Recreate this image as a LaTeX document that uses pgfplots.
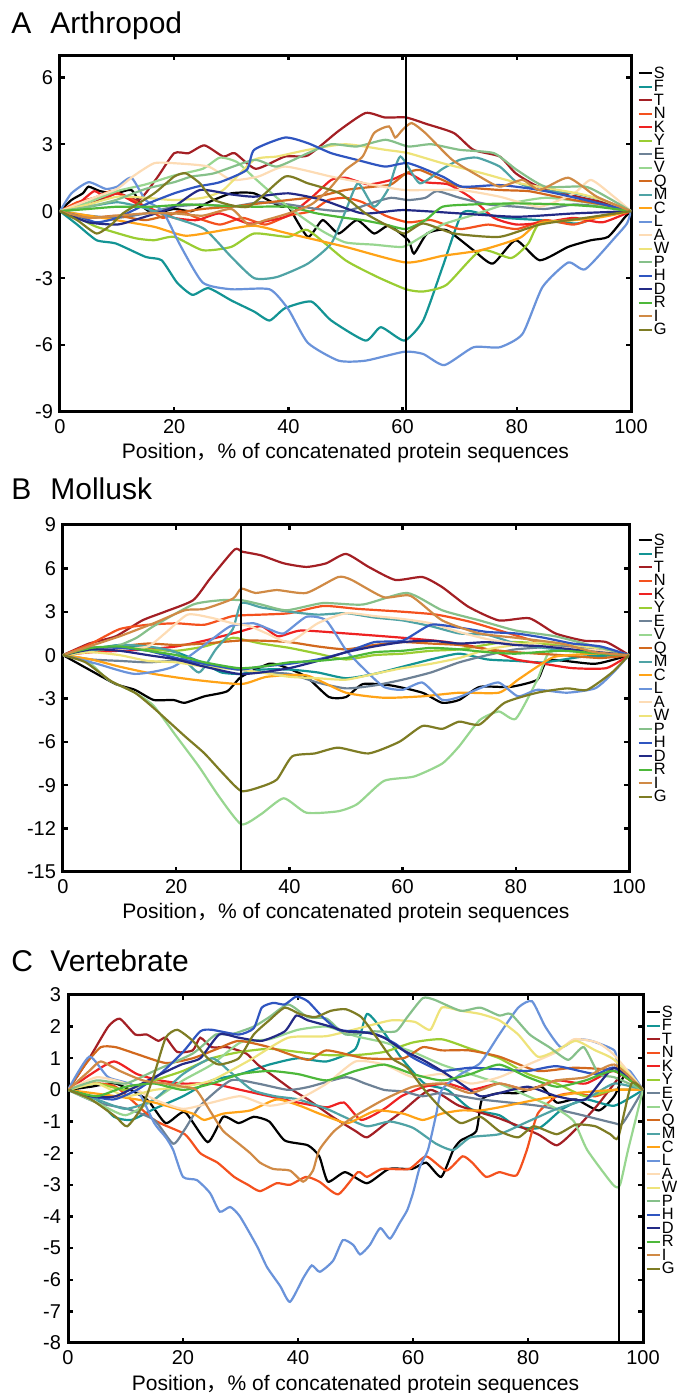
\documentclass[border=0pt]{standalone}
\usepackage{fontspec}
\setmainfont{Liberation Sans}
\newfontfamily\cjk{Noto Sans CJK SC}
\usepackage{pgfplots}
\pgfplotsset{compat=1.18}

\definecolor{cS}{HTML}{000000}
\definecolor{cF}{HTML}{139494}
\definecolor{cT}{HTML}{A31F24}
\definecolor{cN}{HTML}{F4511E}
\definecolor{cK}{HTML}{EE2222}
\definecolor{cY}{HTML}{9ACD32}
\definecolor{cE}{HTML}{6E8296}
\definecolor{cV}{HTML}{98D690}
\definecolor{cQ}{HTML}{D2691E}
\definecolor{cM}{HTML}{4FA3A5}
\definecolor{cC}{HTML}{FFA317}
\definecolor{cL}{HTML}{6A93DA}
\definecolor{cA}{HTML}{FDDCB5}
\definecolor{cW}{HTML}{EEE37A}
\definecolor{cP}{HTML}{86C08A}
\definecolor{cH}{HTML}{2F55C0}
\definecolor{cD}{HTML}{232A86}
\definecolor{cR}{HTML}{4DB83A}
\definecolor{cI}{HTML}{D08A45}
\definecolor{cG}{HTML}{7E7C24}

\pgfplotsset{
  panel/.style={
    scale only axis, xmin=0, xmax=100,
    xtick={0,20,...,100}, xticklabels={0,20,40,60,80,100},
    tick align=inside, major tick length=2.5pt,
    tick style={black, line width=1.2pt},
    axis line style={line width=1.5pt},
    tick label style={font=\fontsize{10}{10}\selectfont},
    every axis x label/.style={at={(axis description cs:0.5,0)}, anchor=base, yshift=-23.5pt, font=\fontsize{10.5}{12}\selectfont},
    xlabel={Position{\cjk ，}\% of concatenated protein sequences},
    legend entries={S,F,T,N,K,Y,E,V,Q,M,C,L,A,W,P,H,D,R,I,G},
    legend style={draw=none, fill=none, font=\fontsize{8.2}{8.2}\selectfont, at={(1,1)}, anchor=north west,
      inner sep=0pt, row sep=0pt, column sep=0.6pt,
      nodes={inner sep=0pt, text height=6pt, text depth=0.75pt}, cells={anchor=west}},
    legend image code/.code={\draw[#1] (0pt,0pt) -- (6.5pt,0pt);},
    every axis plot/.append style={line width=1.1pt, smooth, tension=0.35},
  },
  vline/.style={black, line width=0.9pt, forget plot, sharp plot},
}

\begin{document}
\begin{tikzpicture}
\useasboundingbox (0,0) rectangle (338pt,696.5pt);

% titles
\node[anchor=base west, inner sep=0pt, font=\fontsize{15}{15}\selectfont] at (5.5pt,679.5pt) {A};
\node[anchor=base west, inner sep=0pt, font=\fontsize{15}{15}\selectfont] at (25pt,679.5pt) {Arthropod};
\node[anchor=base west, inner sep=0pt, font=\fontsize{15}{15}\selectfont] at (5.5pt,446.5pt) {B};
\node[anchor=base west, inner sep=0pt, font=\fontsize{15}{15}\selectfont] at (25pt,446.5pt) {Mollusk};
\node[anchor=base west, inner sep=0pt, font=\fontsize{15}{15}\selectfont] at (5.5pt,210.5pt) {C};
\node[anchor=base west, inner sep=0pt, font=\fontsize{15}{15}\selectfont] at (25pt,210.5pt) {Vertebrate};

% ---------------- A Arthropod ----------------
\begin{axis}[panel, at={(30pt,490.5pt)}, anchor=south west, width=285.5pt, height=178.5pt,
  ymin=-9, ymax=7, ytick={-9,-6,...,6}, yticklabels={-9,-6,-3,0,3,6},
  legend style={xshift=3pt, yshift=-5.5pt}]
\addplot[cS] coordinates {(0,0)(2,0.5)(4,0.8)(5,1.1)(7,0.9)(9.8,0.8)(12.5,0.95)(14.5,0.2)(16.5,-0.1)(20,0.1)(23,0.0)(26,0.4)(30,0.8)(34,0.8)(38.7,0.2)(40,0.2)(43.4,-1.15)(46,-0.4)(48.8,-1.0)(52,-0.4)(55,-1.0)(57.6,-0.65)(61,-1.3)(62,-1.9)(64.3,-1.0)(67.7,-0.85)(72.4,-1.75)(75.8,-2.35)(79.8,-1.3)(84,-2.2)(89,-1.6)(93,-1.3)(96,-1.15)(99,-0.25)(100,0)};
\addplot[cF] coordinates {(0,0)(3,-0.6)(6.4,-1.3)(9.8,-1.45)(15,-2.05)(17.8,-2.2)(20.5,-3.2)(23.2,-3.75)(26,-3.45)(30,-4.0)(34,-4.5)(36.7,-4.9)(39.4,-4.35)(44,-4.05)(47.5,-4.9)(53.5,-5.8)(56.2,-5.2)(60.3,-5.8)(63.6,-4.9)(67,-2.5)(70.4,-0.1)(73.7,-0.1)(78,-0.3)(84,-0.4)(90.6,-0.55)(95,-0.2)(100,0)};
\addplot[cT] coordinates {(0,0)(5,0.3)(10,0.8)(13.8,0.5)(17,1.5)(20,2.6)(22.5,2.6)(25.3,2.95)(28.6,2.45)(30.6,2.6)(34.3,1.9)(39.4,2.45)(43.4,2.5)(48.8,3.6)(53.5,4.4)(56.9,4.2)(60.6,4.2)(64.3,3.9)(69,3.5)(72.4,2.75)(77,2.45)(79.8,1.7)(83.8,1.1)(90.6,0.65)(95,0.4)(100,0)};
\addplot[cN] coordinates {(0,0)(3,0.4)(6,0.6)(9,0.9)(12,0.6)(15,0.2)(18,-0.3)(21,0.0)(24,-0.3)(28,-0.6)(32,-0.3)(36,-0.6)(40,-0.2)(44,0.0)(47,0.5)(50,0.6)(53,0.4)(57,-0.2)(61,-0.5)(65,-0.4)(70,-0.8)(75,-0.6)(80,-0.8)(85,-0.4)(90,-0.6)(95,-0.2)(100,0)};
\addplot[cK] coordinates {(0,0)(3,0.3)(6,0.9)(8,0.6)(10,0.8)(13,0.4)(16,0.1)(20,-0.3)(24,-0.4)(28,-0.1)(33,-0.55)(37,-0.4)(40,-0.2)(44,0.6)(47.5,1.4)(50,1.5)(54,1.2)(58,1.4)(61,1.7)(64,1.3)(68,1.2)(72,0.6)(76,-0.3)(80,-0.6)(85,-0.5)(90,-0.3)(95,-0.5)(100,0)};
\addplot[cY] coordinates {(0,0)(4,-0.4)(6.4,-0.7)(13,-1.2)(16.5,-1.3)(20,-1.15)(25,-1.75)(30,-1.6)(34,-1.0)(40,-1.15)(43.4,-0.85)(50,-2.2)(55.6,-2.95)(60.6,-3.5)(63.6,-3.6)(67.7,-3.3)(73.7,-1.75)(79,-2.1)(82,-1.45)(84,-0.55)(90,-0.4)(94,-0.25)(100,0)};
\addplot[cE] coordinates {(0,0)(5,-0.2)(10,-0.3)(15,-0.1)(20,0.2)(25,0.3)(30,0.2)(35,0.4)(40,0.3)(45,0.1)(50,0.0)(55,0.4)(58,0.6)(61,0.5)(64,0.6)(66,0.9)(70,0.6)(75,0.3)(80,0.2)(85,0.1)(90,0.3)(95,0.2)(100,0)};
\addplot[cV] coordinates {(0,0)(5,0.4)(10,0.9)(15,1.2)(20,1.6)(25,1.9)(28,2.4)(31,2.2)(34,1.5)(38,0.6)(42,-0.2)(46,-0.9)(50,-1.4)(55,-1.5)(60,-1.6)(63,-1.2)(67,-0.6)(72,-0.2)(78,0.3)(85,0.6)(92,0.4)(100,0)};
\addplot[cQ] coordinates {(0,0)(5,-0.3)(10,-0.2)(15,-0.4)(20,-0.1)(25,0.1)(30,0.2)(35,0.35)(40,0.5)(45,0.65)(50,0.95)(55,1.1)(58,1.2)(60.6,1.7)(63,1.85)(67,1.4)(70,1.1)(77,0.95)(82,0.9)(86,0.7)(90,0.5)(95,0.3)(100,0)};
\addplot[cM] coordinates {(0,0)(5,0.2)(10,0.4)(14,0.2)(16.5,0.0)(20,-0.3)(25.3,-0.8)(30,-2.05)(34,-3.0)(38,-2.95)(43.4,-2.35)(47.5,-1.45)(50,0.0)(52.2,1.25)(55,0.2)(57.5,1.0)(59.6,2.45)(63,1.25)(67,1.9)(70,2.3)(73,2.4)(77,2.0)(80,1.3)(84,0.95)(90,0.8)(95,0.5)(100,0)};
\addplot[cC] coordinates {(0,0)(5,-0.2)(9.8,-0.4)(16.5,-0.7)(22,-1.1)(28.6,-0.85)(34,-0.65)(40,-1.0)(50,-1.6)(60.6,-2.3)(67,-2.0)(73.7,-1.75)(80.5,-1.2)(84,-0.55)(94,-0.3)(100,0)};
\addplot[cL] coordinates {(0,0)(2,0.8)(5,1.3)(8,1.0)(10,1.1)(12.5,1.5)(15,0.5)(18,0.0)(21,-1.5)(25,-3.2)(30,-3.5)(36.7,-3.5)(40,-4.4)(43.4,-5.9)(48.8,-6.7)(53.5,-6.7)(60.3,-6.3)(63.6,-6.4)(67.3,-6.9)(72.4,-6.1)(77,-6.1)(81,-5.5)(84.5,-3.4)(89,-2.3)(92,-2.6)(97.3,-1.15)(99.3,-0.55)(100,0)};
\addplot[cA] coordinates {(0,0)(6.4,0.65)(10,1.0)(13,1.6)(16.5,2.15)(20,2.15)(26,2.0)(30,1.4)(34.7,1.55)(39.4,2.0)(47.5,1.55)(53.5,1.25)(60.3,0.95)(70,0.95)(77,0.65)(84,0.2)(90,0.8)(93,1.4)(97,0.65)(100,0)};
\addplot[cW] coordinates {(0,0)(5,0.3)(10,0.65)(15,0.6)(20,0.5)(25,0.6)(28.6,0.95)(34,2.3)(38,2.45)(43.4,2.75)(50,3.0)(57,2.75)(61,2.6)(67,2.15)(74,1.7)(80.5,1.25)(90.6,0.8)(95,0.5)(100,0)};
\addplot[cP] coordinates {(0,0)(5,0.2)(9.8,0.5)(15,1.0)(20,1.3)(23,1.55)(27,1.7)(34,2.3)(38,2.0)(43.4,2.6)(47.5,3.0)(52,2.9)(57,3.2)(61,2.9)(65,3.0)(70,2.75)(76,2.6)(80,1.85)(85,1.1)(92,1.1)(96,0.6)(100,0)};
\addplot[cH] coordinates {(0,0)(3,-0.2)(6.4,-0.5)(10,-0.3)(15,0.3)(20,0.8)(24,1.1)(28,1.3)(32.7,1.85)(34,2.75)(39.4,3.3)(43.4,3.05)(47.5,2.6)(52,2.3)(56.9,2.0)(61,2.15)(67,1.55)(70.4,1.1)(77,1.17)(84,0.95)(92,0.5)(100,0)};
\addplot[cD] coordinates {(0,0)(5,-0.5)(10,-0.6)(13,-0.4)(18,0.0)(20,0.2)(24.5,0.95)(30,0.75)(34,0.65)(40,0.8)(46,0.5)(53,-0.1)(60,0.05)(70,-0.1)(80,-0.25)(90,-0.1)(100,0)};
\addplot[cR] coordinates {(0,0)(5,0.1)(10,0.2)(16,0.2)(22,0.3)(28,0.25)(34,0.2)(40,0.2)(45,-0.1)(50,-0.3)(53,-0.4)(57,-0.6)(60.6,-0.8)(64,-0.4)(67,0.2)(72,0.3)(80,0.35)(88,0.3)(94,0.2)(100,0)};
\addplot[cI] coordinates {(0,0)(5,-0.3)(10,-0.2)(15,-0.1)(20,-0.1)(25,-0.2)(30,0.1)(33,-0.6)(36,-0.4)(40,-0.1)(44,0.3)(47,0.95)(50,1.85)(53,2.45)(55,3.5)(57.6,3.8)(58.7,3.3)(60,3.65)(61.6,3.95)(64,3.5)(68.7,2.3)(73.5,1.55)(77,1.1)(81,1.4)(84,0.95)(89,1.5)(94,0.65)(100,0)};
\addplot[cG] coordinates {(0,0)(3,-0.4)(6.4,-1.0)(9,-0.6)(11,-0.1)(16.5,0.8)(20,1.55)(22,1.7)(24.5,1.25)(27,0.5)(33,0.2)(39.4,1.55)(43.4,1.25)(49,0.8)(53.5,-0.1)(57,-0.6)(60.3,-1.0)(63.6,-0.55)(69,-1.0)(77,-1.15)(84,-0.6)(92,-0.3)(100,0)};
\addplot[vline] coordinates {(60.6,-9)(60.6,7)};
\end{axis}

% ---------------- B Mollusk ----------------
\begin{axis}[panel, at={(31.5pt,260.5pt)}, anchor=south west, width=283pt, height=173.5pt,
  ymin=-15, ymax=9, ytick={-15,-12,...,9}, yticklabels={-15,-12,-9,-6,-3,0,3,6,9},
  legend style={xshift=4pt, yshift=-4pt}]
\addplot[cS] coordinates {(0,0)(4.6,-1.0)(9.3,-2.0)(12.7,-2.4)(16,-3.1)(19.5,-3.1)(21.5,-3.3)(25,-2.85)(29,-2.5)(31.5,-1.5)(36.4,-0.6)(39,-0.8)(43,-1.5)(47,-2.9)(50,-2.9)(53,-2.0)(58,-2.1)(63.5,-2.6)(67,-3.3)(70,-3.1)(73.6,-2.2)(79,-2.2)(83.8,-1.7)(85.8,-0.35)(94,-0.6)(100,0)};
\addplot[cF] coordinates {(0,0)(5,0.4)(10,0.7)(15,0.5)(20,0.2)(25,-0.6)(28,-1.2)(31.5,-1.3)(35,-1.0)(40,-1.0)(45,-1.2)(50,-1.6)(55,-1.3)(60,-0.8)(65,-0.3)(70,0.1)(75,-0.3)(80,-0.4)(85,-0.5)(92,-0.1)(100,0)};
\addplot[cT] coordinates {(0,0)(4.6,0.8)(9.3,1.3)(14,2.4)(18,3.0)(23,3.8)(26,5.3)(30.3,7.3)(31.7,7.15)(35,6.9)(39,6.35)(43,6.1)(46.5,6.35)(50,7.0)(54,6.1)(58.7,5.2)(63.5,5.4)(67,4.7)(71.6,3.35)(77,2.4)(82.4,2.55)(87,1.5)(92,1.0)(96,0.9)(100,0)};
\addplot[cN] coordinates {(0,0)(5,0.8)(10,1.8)(15,2.1)(20,2.2)(25,2.1)(30,2.7)(35,2.8)(40,2.9)(46,3.4)(52,3.2)(60,3.0)(66,2.8)(72,2.3)(78,1.6)(85,0.8)(92,0.4)(100,0)};
\addplot[cK] coordinates {(0,0)(5,0.2)(10,0.3)(15,0.4)(20,0.6)(25,1.0)(31,1.6)(35,2.0)(38,1.3)(42,1.7)(50,1.5)(60,1.2)(68,0.9)(75,0.4)(80,-0.3)(85,-0.6)(90,-0.9)(96,-0.9)(100,0)};
\addplot[cY] coordinates {(0,0)(5,0.3)(10,0.5)(15,0.4)(20,0.3)(25,0.6)(30,1.2)(31.5,1.1)(35,0.8)(40,0.5)(45,0.1)(50,-0.3)(55,0.0)(60,0.1)(65,0.3)(70,0.4)(78,0.9)(85,0.8)(92,0.5)(100,0)};
\addplot[cE] coordinates {(0,0)(5,-0.3)(10,-0.4)(15,-0.5)(20,-0.4)(25,-0.6)(31,-1.0)(35,-1.2)(40,-1.3)(45,-1.9)(50,-2.3)(55,-2.1)(60,-1.7)(65,-1.2)(70,-0.5)(75,0.0)(80,0.4)(88,0.6)(95,0.4)(100,0)};
\addplot[cV] coordinates {(0,0)(4,-0.3)(8,-1.7)(12.7,-2.6)(16,-3.5)(20,-5.6)(24,-7.7)(27.6,-9.8)(31.5,-11.7)(35,-11.0)(39,-9.9)(43,-10.9)(48.6,-10.8)(52,-10.3)(56.7,-8.7)(62,-8.4)(67,-7.5)(70,-6.3)(73.6,-4.5)(77,-3.9)(80,-4.4)(83.8,-1.7)(86,0.2)(92,0.4)(100,0)};
\addplot[cQ] coordinates {(0,0)(5,0.4)(10,0.6)(15,0.8)(20,0.7)(25,0.8)(31,1.0)(35,1.0)(40,0.9)(45,0.6)(50,0.4)(55,0.7)(60,0.9)(65,0.8)(70,0.7)(75,0.4)(80,0.2)(88,0.0)(95,-0.2)(100,0)};
\addplot[cM] coordinates {(0,0)(5,0.3)(10,0.7)(15,0.6)(20,0.2)(24,-1.2)(27,0.4)(30,1.8)(31.5,3.6)(35,3.3)(40,3.0)(45,2.8)(50,2.9)(55,2.6)(60,2.4)(65,2.0)(70,1.5)(75,1.4)(80,0.8)(85,0.5)(92,0.2)(100,0)};
\addplot[cC] coordinates {(0,0)(5,-0.3)(10,-0.8)(16,-1.3)(23,-1.7)(31.5,-2.0)(36,-1.5)(43,-1.4)(50,-2.6)(56.7,-2.95)(63.5,-2.85)(70,-2.6)(77,-2.6)(80.4,-1.7)(83.8,-0.8)(87,-0.1)(94,0.1)(100,0)};
\addplot[cL] coordinates {(0,0)(6,-0.6)(12.7,-1.3)(19.5,-0.8)(26,1.0)(29.6,2.0)(33.7,2.2)(36.4,1.8)(39,1.5)(43,2.65)(46.5,2.4)(50,0.35)(53.3,-1.0)(56.7,-2.2)(60,-2.4)(63.5,-1.9)(67,-3.1)(70,-2.9)(73.6,-2.3)(77,-1.9)(80.4,-2.85)(83.8,-2.4)(89,-2.6)(94,-2.3)(97,-1.3)(100,0)};
\addplot[cA] coordinates {(0,0)(5,0.5)(10,0.4)(15,0.6)(18,1.5)(22,2.8)(26,2.6)(30,2.2)(33,2.0)(36,1.5)(40,0.9)(45,2.2)(50,2.9)(55,2.7)(60,2.5)(65,2.2)(70,1.6)(75,1.1)(80,0.8)(88,0.5)(95,0.3)(100,0)};
\addplot[cW] coordinates {(0,0)(5,0.2)(10,0.0)(15,-0.4)(20,-0.5)(25,-0.8)(31,-1.0)(35,-1.2)(40,-1.5)(45,-1.6)(50,-1.7)(55,-1.3)(60,-0.9)(65,-0.6)(70,-0.2)(75,0.4)(80,0.7)(85,0.9)(90,0.7)(96,0.4)(100,0)};
\addplot[cP] coordinates {(0,0)(5,0.5)(9.3,0.6)(13,1.2)(16,2.0)(23,3.5)(28,3.8)(31.5,3.8)(35,3.5)(39.5,3.1)(45.9,3.6)(53,3.5)(60.8,4.3)(67,3.1)(73.6,2.4)(80,1.7)(87,1.3)(94,0.6)(100,0)};
\addplot[cH] coordinates {(0,0)(5,0.5)(10,0.5)(15,0.3)(20,-0.2)(25,-0.6)(31,-1.0)(35,-0.8)(40,-0.6)(45,-0.3)(50,0.2)(55,0.9)(60,1.0)(65,2.1)(70,1.9)(75,1.6)(80,1.5)(85,1.2)(90,0.8)(95,0.6)(100,0)};
\addplot[cD] coordinates {(0,0)(5,0.4)(10,0.3)(15,0.0)(20,-0.3)(25,-0.8)(31,-1.3)(35,-1.2)(40,-0.9)(45,-0.4)(50,0.2)(55,0.6)(60,0.9)(65,1.0)(70,0.8)(75,0.9)(80,0.7)(85,0.6)(92,0.3)(100,0)};
\addplot[cR] coordinates {(0,0)(5,0.5)(10,0.6)(15,0.3)(20,0.0)(25,-0.5)(31,-0.9)(35,-0.8)(40,-0.5)(45,-0.4)(50,-0.2)(55,0.2)(60,0.3)(65,0.5)(70,0.4)(75,0.2)(80,0.1)(88,0.3)(95,0.1)(100,0)};
\addplot[cI] coordinates {(0,0)(4.6,0.6)(10,1.3)(16,2.2)(21.5,3.1)(25,3.2)(30,3.9)(31.5,4.6)(34,4.3)(37.8,4.5)(43,4.3)(48.6,5.4)(51,5.2)(56.7,4.0)(61.4,4.1)(67,2.4)(73.6,1.5)(80,1.2)(88,0.8)(94,0.2)(100,0)};
\addplot[cG] coordinates {(0,0)(4,-0.5)(8.5,-1.8)(12.7,-2.6)(16,-3.65)(21.5,-5.6)(25,-6.8)(28.3,-8.2)(31.5,-9.4)(35,-9.1)(37.8,-8.6)(40.5,-7.0)(44.5,-6.8)(48.6,-6.4)(54,-6.8)(59.4,-6.0)(63.5,-4.9)(67,-5.1)(70,-4.6)(73.6,-4.8)(78,-3.3)(83.8,-2.6)(89,-2.3)(92.6,-2.4)(97,-1.2)(100,0)};
\addplot[vline] coordinates {(31.5,-15)(31.5,9)};
\end{axis}

% ---------------- C Vertebrate ----------------
\begin{axis}[panel, at={(34pt,25pt)}, anchor=south west, width=287.5pt, height=174pt,
  ymin=-8, ymax=3, ytick={-8,-7,...,3}, yticklabels={-8,-7,-6,-5,-4,-3,-2,-1,0,1,2,3},
  legend style={xshift=1pt, yshift=-5pt}]
\addplot[cS] coordinates {(0,0)(4,0.1)(8.3,0.2)(13.7,-0.3)(17,-1.05)(20.3,-0.7)(24.3,-1.65)(27,-0.85)(29.7,-1.05)(32.3,-0.85)(35,-1.0)(37.7,-1.6)(41.7,-1.75)(43.7,-2.1)(45.2,-2.9)(48.2,-2.6)(52,-2.95)(55.8,-2.5)(59.8,-2.5)(62.3,-2.3)(64.9,-2.75)(67,-1.9)(68.3,-1.6)(71,-1.3)(72,-0.3)(75,-0.1)(78.3,-0.1)(82.3,0.1)(85,-0.4)(88.3,-0.3)(92.3,-0.65)(95,-0.2)(97,0.5)(100,0)};
\addplot[cF] coordinates {(0,0)(5,-0.3)(8,-0.85)(11,-0.95)(15,-0.6)(20,-0.2)(25,0.3)(30,0.5)(35,0.8)(40,1.0)(45,0.9)(50,1.3)(52,2.4)(55,1.8)(58,1.0)(62,0.2)(66,0.0)(70,-0.6)(75,-0.8)(78,-1.15)(82,-1.2)(86,-0.6)(90,-0.3)(95,-0.5)(100,0)};
\addplot[cT] coordinates {(0,0)(3.7,1.0)(7,2.0)(9,2.25)(11.7,1.75)(13.7,1.75)(15.7,1.55)(17,1.65)(19,1.2)(21.7,1.25)(23,1.65)(25,1.35)(27.7,1.35)(31,1.15)(33,0.8)(36,0.4)(39,0.0)(41.7,-0.3)(46,-0.85)(50,-1.3)(52,-1.5)(55,-1.1)(58,-0.7)(63,0.0)(68,-0.5)(75,-0.9)(81.7,-1.4)(85,-1.75)(88,-1.3)(92,-0.5)(95,0.2)(97,0.6)(100,0)};
\addplot[cN] coordinates {(0,0)(4,0.2)(8.3,0.1)(15,-0.95)(20.3,-1.4)(23,-2.0)(26,-2.3)(28.9,-2.75)(31.3,-3.0)(33.4,-3.2)(36.3,-2.95)(38.6,-3.0)(41.4,-2.75)(43.7,-2.9)(47,-3.3)(50.4,-2.6)(52,-2.75)(54.6,-2.5)(59.3,-2.5)(62.3,-2.1)(65.8,-2.55)(68.6,-2.1)(70.3,-2.3)(72.7,-2.75)(75,-2.6)(78,-2.7)(79.8,-1.9)(81.7,-0.75)(85,-0.2)(88,-0.1)(91.7,-0.2)(95,0.0)(100,0)};
\addplot[cK] coordinates {(0,0)(4,0.5)(8,0.9)(12,0.5)(16,0.3)(20,0.2)(25,0.2)(30,0.0)(35,-0.2)(40,-0.4)(45,-0.55)(48,-0.4)(51,-0.95)(55,-0.6)(58,-0.2)(62,0.1)(66,0.2)(70,0.0)(75,0.2)(80,0.0)(85,0.3)(90,0.2)(95,0.6)(100,0)};
\addplot[cY] coordinates {(0,0)(5,0.2)(10,0.0)(15,0.3)(20,0.6)(25,1.0)(30,1.2)(35,1.3)(40,1.2)(45,1.1)(50,1.1)(55,1.2)(60,1.5)(65,1.6)(70,1.3)(75,1.0)(80,0.5)(85,0.2)(90,-0.2)(95,0.0)(100,0)};
\addplot[cE] coordinates {(0,0)(5,-0.4)(10.3,-0.6)(15,-0.95)(18.3,-1.7)(20.3,-1.25)(23,-0.5)(28.3,0.3)(33,0.2)(38.3,0.0)(42,0.1)(48.3,0.4)(51.7,0.2)(55,0.0)(58.3,-0.05)(61.7,-0.2)(65,-0.1)(71.7,-0.3)(81.7,-0.5)(88.3,-0.75)(95,-1.05)(96.5,-1.05)(100,0)};
\addplot[cV] coordinates {(0,0)(5,-0.4)(10,-0.8)(15,-0.3)(20,0.3)(25,0.8)(30,1.5)(35,1.6)(40,1.9)(45,2.0)(50,1.7)(55,1.5)(60,1.2)(65,0.8)(70,0.5)(75,0.2)(80,-0.2)(85,-0.6)(88,-1.0)(90.3,-1.9)(94.8,-3.0)(96,-3.0)(97.4,-1.9)(100,0)};
\addplot[cQ] coordinates {(0,0)(3,0.8)(5.7,1.35)(8.3,1.35)(11.7,1.15)(17,0.85)(21.7,1.0)(26,1.3)(29.7,1.55)(35,1.35)(41.7,0.95)(45,1.25)(51.7,1.0)(58.3,1.0)(61.7,1.35)(65,1.25)(69.7,1.25)(75,1.05)(81.7,0.6)(88,0.7)(95,0.6)(100,0)};
\addplot[cM] coordinates {(0,0)(5,-0.3)(10,-0.6)(15,-0.3)(20,0.5)(25,1.0)(28,0.6)(32,0.0)(36,-0.2)(40,-0.3)(45,-0.6)(48,-0.85)(52,-1.15)(56,-1.0)(60,-1.2)(64,-1.7)(67,-1.9)(70,-1.5)(75,-1.4)(80,-1.0)(85,-0.6)(90,-0.3)(95,0.2)(100,0)};
\addplot[cC] coordinates {(0,0)(8.3,-0.2)(15,-0.4)(21.7,-0.75)(23.7,-0.95)(27,-0.75)(31.7,-0.65)(36.3,-0.3)(40.3,-0.5)(43.7,-0.75)(48.3,-1.05)(50,-0.95)(53.7,-0.65)(58.3,-0.75)(61.7,-0.95)(65,-0.75)(68.3,-0.65)(71.7,-0.65)(75,-0.55)(81.7,-0.3)(88.3,-0.1)(95,0.0)(100,0)};
\addplot[cL] coordinates {(0,0)(3.7,1.05)(7,0.4)(11.7,0.1)(15,-1.05)(17,-1.5)(18.3,-1.9)(20,-2.75)(22.4,-2.85)(24.7,-3.26)(26.4,-3.85)(28.2,-3.7)(29.9,-4.0)(32.9,-4.95)(34.6,-5.6)(36.9,-6.2)(38.6,-6.7)(40.9,-5.95)(42.4,-5.55)(43.8,-5.75)(46.1,-5.4)(47.8,-4.75)(49.6,-4.9)(50.8,-5.2)(52.5,-4.9)(54.3,-4.37)(56,-4.7)(57.7,-4.2)(59,-3.8)(60,-3.26)(61.2,-2.43)(62.6,-1.9)(64,-0.8)(65,0.0)(68.3,0.5)(71.7,0.85)(75,1.75)(78.3,2.6)(80.7,2.8)(83,2.0)(85.7,1.35)(88.3,1.6)(91,1.55)(95,1.25)(95.7,0.7)(97.7,0.6)(100,0)};
\addplot[cA] coordinates {(0,0)(5,0.4)(10,0.2)(15,-0.3)(20,-0.6)(25,-0.4)(30,-0.2)(35,-0.5)(40,-0.3)(45,0.2)(50,0.9)(55,0.8)(60,0.4)(65,0.5)(70,0.2)(75,0.4)(80,0.8)(85,1.2)(88,1.6)(92,1.5)(95,1.1)(100,0)};
\addplot[cW] coordinates {(0,0)(5,0.2)(10,-0.2)(15,0.0)(20,0.1)(25,0.3)(31.7,0.95)(38.3,1.65)(45,1.7)(51.7,2.0)(56.3,2.2)(60.3,2.15)(63,1.9)(65,2.6)(68.3,2.5)(71.7,2.4)(75,2.2)(78.3,1.75)(81.7,1.05)(85,1.25)(88.3,1.55)(91.7,1.25)(95,0.95)(100,0)};
\addplot[cP] coordinates {(0,0)(5,0.3)(10,0.2)(15,0.6)(21.7,1.15)(25.7,1.75)(28.3,1.75)(32.3,2.0)(35,2.3)(38.3,2.7)(41.7,2.3)(45,2.25)(48.3,1.75)(53,1.85)(57,1.85)(59,2.3)(61.7,2.9)(63.7,2.85)(68.3,2.5)(71.7,2.6)(75,2.35)(77,2.4)(80.3,1.75)(83.7,1.35)(87,0.95)(89.7,1.35)(92.3,0.5)(95,0.4)(100,0)};
\addplot[cH] coordinates {(0,0)(4,-0.2)(8,-0.3)(12,0.0)(16,0.5)(20,1.2)(23,1.85)(25,1.9)(29.7,1.75)(32.3,1.95)(33.7,2.6)(35.7,2.75)(37.7,2.7)(39.7,2.95)(41.7,2.8)(44.3,2.3)(47,1.9)(50.3,1.85)(53.7,1.75)(57,1.45)(59.7,1.05)(62.3,0.8)(65,0.6)(70,0.7)(75,0.65)(80,0.6)(85,0.75)(91.7,0.5)(95,0.7)(100,0)};
\addplot[cD] coordinates {(0,0)(4,-0.2)(8.3,-0.2)(15,0.4)(19.7,0.8)(23,1.0)(26.3,1.75)(29.7,1.65)(33.7,1.55)(37.7,1.85)(39.7,2.35)(41.7,2.2)(45.7,2.0)(48.3,1.85)(52.3,1.8)(55,1.65)(58.3,1.25)(61.7,0.95)(65,0.6)(68.3,0.2)(71.7,-0.2)(75,-0.1)(80,0.1)(85,-0.2)(90,-0.3)(95,0.7)(100,0)};
\addplot[cR] coordinates {(0,0)(5,-0.2)(10,0.1)(15,0.2)(20,0.0)(25,0.2)(30,0.5)(35,0.6)(40,0.5)(45,0.3)(50,0.6)(55,0.8)(60,0.5)(65,0.3)(70,0.5)(75,0.8)(80,0.4)(85,0.1)(90,0.3)(95,0.6)(100,0)};
\addplot[cI] coordinates {(0,0)(3.7,0.6)(5.7,0.9)(9,0.6)(13,0.3)(17,0.2)(20,0.1)(22.3,0.0)(25,-0.75)(27,-1.3)(29.7,-1.7)(31.7,-2.0)(33.4,-2.3)(35.7,-2.5)(38.6,-2.55)(40.9,-2.9)(42.6,-2.55)(43.7,-1.9)(46.3,-1.3)(49.7,-0.85)(55,-0.3)(60,0.1)(65,0.2)(70,-0.1)(75,0.2)(80,0.0)(85,0.3)(90,0.4)(95,0.8)(100,0)};
\addplot[cG] coordinates {(0,0)(4,-0.3)(8.3,-0.85)(10.3,-1.15)(13,-0.5)(15,0.5)(17,1.65)(19,1.9)(21.7,1.55)(24.3,1.0)(26.3,0.8)(29.7,1.0)(32.3,1.75)(35,2.2)(37.7,2.6)(40.3,2.4)(43,2.3)(45.7,2.5)(48.3,2.55)(51,2.3)(53.7,1.65)(56.3,1.0)(59,0.7)(62,0.0)(65,-0.6)(68.3,-1.05)(71.7,-0.85)(75,-1.3)(78.3,-1.5)(81,-1.15)(85,-1.4)(88.3,-1.1)(91.7,-1.15)(94.3,-1.4)(95.7,-1.5)(98,0.2)(100,0)};
\addplot[vline] coordinates {(95.8,-8)(95.8,3)};
\end{axis}
\end{tikzpicture}
\end{document}
